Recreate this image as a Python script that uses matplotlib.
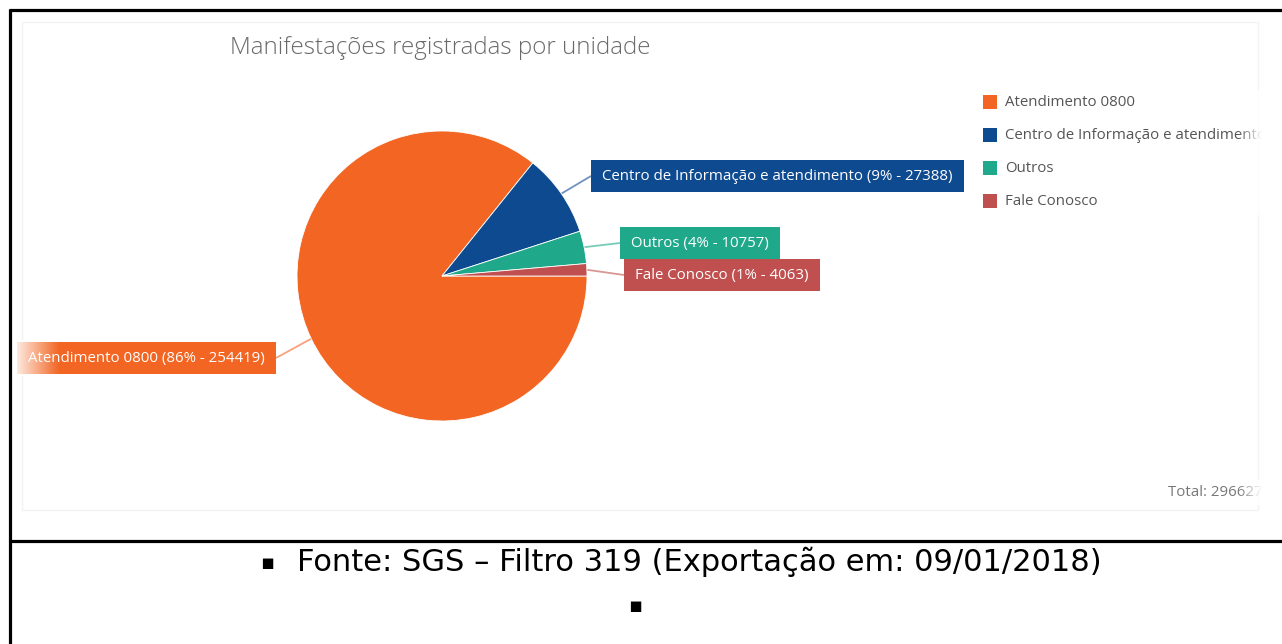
import numpy as np
import matplotlib
matplotlib.use('Agg')
import matplotlib.pyplot as plt
from matplotlib.patches import Rectangle
from matplotlib.transforms import Bbox, TransformedBbox

# ---------------- data ----------------
categories = ["Atendimento 0800", "Centro de Informação e atendimento", "Outros", "Fale Conosco"]
values = [254419, 27388, 10757, 4063]
colors = ["#F26522", "#0D4A8F", "#1FA98A", "#C0504F"]
title = "Manifestações registradas por unidade"
source = "Fonte: SGS – Filtro 319 (Exportação em: 09/01/2018)"

total = sum(values)
W, H = 1282, 644
FONT = ['Open Sans', 'DejaVu Sans']

fig = plt.figure(figsize=(W / 100, H / 100), dpi=100)
ov = fig.add_axes([0, 0, 1, 1])
ov.axis('off')
ov.set_xlim(0, W)
ov.set_ylim(H, 0)

# pie axes
cx, cy, R = 442, 276, 145
pax = fig.add_axes([(cx - R) / W, (H - cy - R) / H, 2 * R / W, 2 * R / H])
wedges, _ = pax.pie(values, colors=colors, startangle=0, counterclock=False, radius=1,
                    wedgeprops=dict(edgecolor='white', linewidth=0.6))
pax.set_xlim(-1, 1)
pax.set_ylim(-1, 1)
pax.axis('off')

renderer = fig.canvas.get_renderer()
inv = ov.transData.inverted()

# label anchors (pixel layout): (x, y, ha)
anchors = [(276, 358, 'right'), (591, 176, 'left'), (620, 243, 'left'), (624, 275, 'left')]
padpx = 11
half_h = 16
for w, cat, val, col, (axp, ayp, ha) in zip(wedges, categories, values, colors, anchors):
    mid = np.deg2rad((w.theta1 + w.theta2) / 2)
    sx = cx + R * np.cos(mid)
    sy = cy - R * np.sin(mid)
    ov.plot([sx, axp], [sy, ayp], color=col, lw=1.3, alpha=0.6, solid_capstyle='butt')
    pct = round(val / total * 100)
    tx = axp + padpx if ha == 'left' else axp - padpx
    t = ov.text(tx, ayp + 0.5, f"{cat} ({pct}% - {val})", color='white', fontsize=10.8,
                family=FONT, ha=ha, va='center', zorder=4)
    bb = t.get_window_extent(renderer)
    (x0, _), (x1, _) = inv.transform([[bb.x0, bb.y0], [bb.x1, bb.y1]])
    left = min(x0, x1) - padpx
    right = max(x0, x1) + padpx
    ov.add_patch(Rectangle((left, ayp - half_h), right - left, 2 * half_h, fc=col, ec='none', zorder=3))

# legend (manual)
legend_texts = []
for i, (cat, col) in enumerate(zip(categories, colors)):
    y = 102 + 33 * i
    ov.add_patch(Rectangle((983, y - 7), 14, 14, fc=col, ec='none'))
    t = ov.text(1005, y, cat, fontsize=10.8, family=FONT, color='#555555', va='center', ha='left')
    legend_texts.append(t)

tt = ov.text(1168, 492, f"Total: {total}", fontsize=10.8, family=FONT, color='#777777',
             va='center', ha='left')
legend_texts.append(tt)

# title
ov.text(230, 48, title, fontsize=17.4, family=FONT, fontweight='light', color='#6a6a6a',
        va='center', ha='left')

# faint inner frame
ov.add_patch(Rectangle((22, 22), 1236, 488, fc='none', ec='#f3f3f3', lw=1))

# caption
ov.text(267, 563, "▪", fontsize=15, family='DejaVu Sans', color='black', va='center', ha='center')
ov.text(297, 562, source, fontsize=22, family='DejaVu Sans', color='black', va='center', ha='left')
ov.text(635, 606, "▪", fontsize=15, family='DejaVu Sans', color='black', va='center', ha='center')

# gradients (fade) overlays
grad = np.ones((1, 64, 4))
grad[0, :, 3] = np.linspace(1, 0, 64)
ov.imshow(grad, extent=(10, 60, 376, 340), aspect='auto', zorder=10, interpolation='bilinear')
grad2 = np.ones((1, 64, 4))
grad2[0, :, 3] = np.linspace(0, 1, 64)
ov.imshow(grad2, extent=(1238, 1262, 215, 90), aspect='auto', zorder=10, interpolation='bilinear')
ov.imshow(grad2, extent=(1238, 1262, 505, 480), aspect='auto', zorder=10, interpolation='bilinear')

# borders
ov.plot([10, 10], [9, H], color='black', lw=2.3, solid_capstyle='butt', zorder=12)
ov.plot([9, W], [10, 10], color='black', lw=2.3, solid_capstyle='butt', zorder=12)
ov.plot([9, W], [541, 541], color='black', lw=2.3, solid_capstyle='butt', zorder=12)

ov.set_xlim(0, W)
ov.set_ylim(H, 0)

clip = TransformedBbox(Bbox([[0, 0], [1262, H]]), ov.transData)
for t in legend_texts:
    t.set_clip_on(True)
    t.set_clip_box(clip)

fig.savefig('out.png', dpi=100, facecolor='white')
